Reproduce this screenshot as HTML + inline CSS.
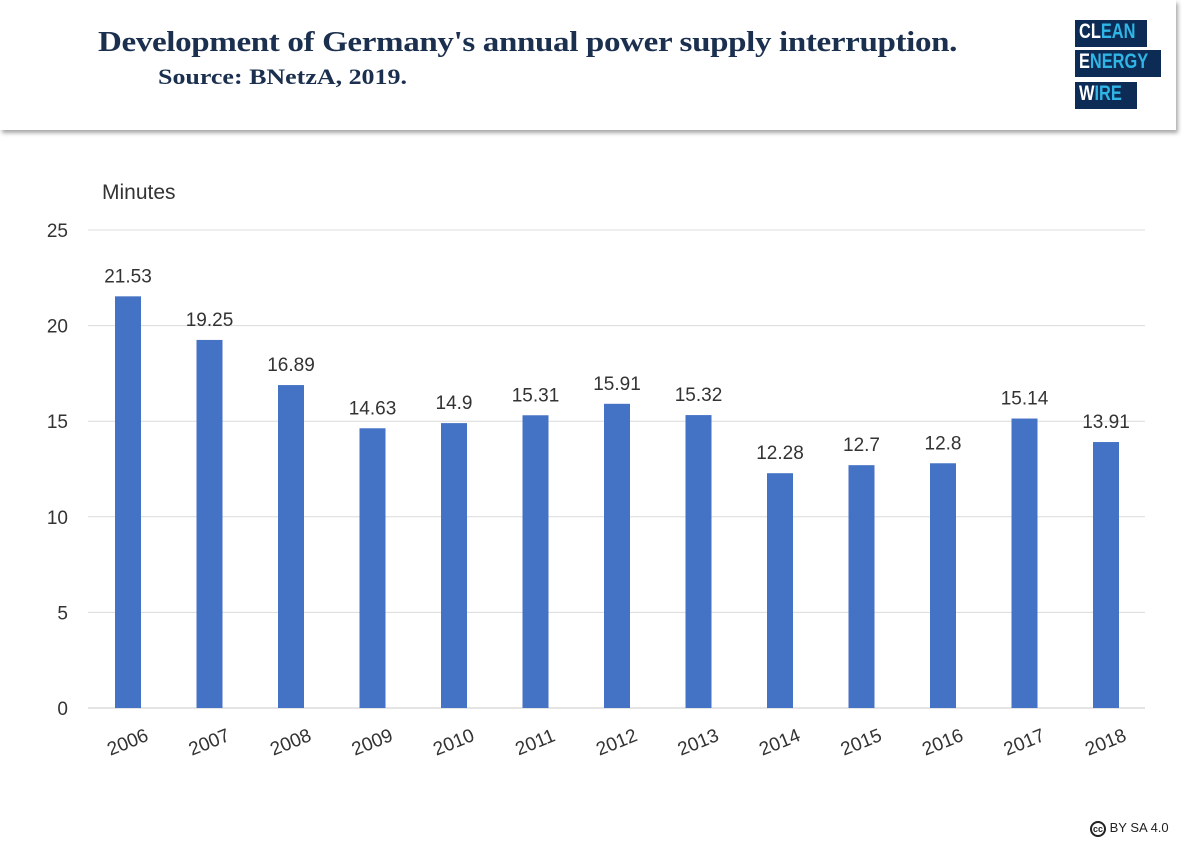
<!DOCTYPE html>
<html><head><meta charset="utf-8"><style>
body{margin:0;width:1200px;height:848px;background:#fff;overflow:hidden;font-family:"Liberation Sans",sans-serif;position:relative}
.hdr{position:absolute;left:0;top:0;width:1176px;height:130px;background:#fff;box-shadow:2px 3px 4px rgba(0,0,0,0.35)}
.t1{position:absolute;left:98px;top:27px;font:bold 28px "Liberation Serif",serif;color:#1b2f4e;transform:scaleX(1.18);transform-origin:left;white-space:nowrap;letter-spacing:-0.3px}
.t2{position:absolute;left:158px;top:64px;font:bold 22px "Liberation Serif",serif;color:#1b2f4e;transform:scaleX(1.18);transform-origin:left;white-space:nowrap}
.lg{position:absolute;background:#0d2c55;height:27px;box-sizing:border-box;overflow:hidden}
.lg span{position:absolute;left:4px;top:0;line-height:27px;color:#2fb5e6;font:bold 21px "Liberation Sans",sans-serif;transform:scaleX(0.78);transform-origin:left;white-space:nowrap}
.lg b{color:#fff}
.cc{position:absolute;left:1090px;top:820px;font-size:13px;color:#222}
</style></head><body>
<div class="hdr">
<div class="t1">Development of Germany's annual power supply interruption.</div>
<div class="t2">Source: BNetzA, 2019.</div>
<div class="lg" style="left:1075px;top:20px;width:72px"><span><b>CL</b>EAN</span></div>
<div class="lg" style="left:1075px;top:50px;width:86px"><span><b>E</b>NERGY</span></div>
<div class="lg" style="left:1075px;top:82px;width:62px"><span><b>W</b>IRE</span></div>
</div>
<svg id="chart" width="1200" height="848" style="position:absolute;left:0;top:0"></svg>
<div class="cc"><span style="display:inline-block;width:16px;height:16px;border:2px solid #222;border-radius:50%;font:bold 9px sans-serif;text-align:center;line-height:13px;box-sizing:border-box;vertical-align:middle">cc</span> BY SA 4.0</div>
<script>
const years=["2006","2007","2008","2009","2010","2011","2012","2013","2014","2015","2016","2017","2018"];
const values=[21.53,19.25,16.89,14.63,14.9,15.31,15.91,15.32,12.28,12.7,12.8,15.14,13.91];
const labels=["21.53","19.25","16.89","14.63","14.9","15.31","15.91","15.32","12.28","12.7","12.8","15.14","13.91"];
const ticks=[0,5,10,15,20,25];
const NS="http://www.w3.org/2000/svg";
const svg=document.getElementById('chart');
const y=v=>708-v*(478/25);
const x=i=>128+i*81.5;
function mk(t,a){const e=document.createElementNS(NS,t);for(const k in a)e.setAttribute(k,a[k]);svg.appendChild(e);return e;}
const yt=mk('text',{x:102,y:199,'font-size':21,fill:'#333','font-family':'Liberation Sans, sans-serif'});yt.textContent='Minutes';


ticks.forEach(t=>{
 const l=mk('line',{x1:88,x2:1145,y1:y(t),y2:y(t),stroke:t===0?'#c8c8c8':'#dcdcdc','stroke-width':1});
 
 
 const tx=mk('text',{x:68,y:y(t)+7,'font-size':19,fill:'#333','text-anchor':'end','font-family':'Liberation Sans, sans-serif'});tx.textContent=t;
 
 
});
values.forEach((v,i)=>{
 const r=mk('rect',{x:x(i)-13,y:y(v),width:26,height:y(0)-y(v),fill:'#4472c4'});
 
 
 const lb=mk('text',{x:x(i),y:y(v)-14,'font-size':19,fill:'#333','text-anchor':'middle','font-family':'Liberation Sans, sans-serif'});lb.textContent=labels[i];
 
 
 const xl=mk('text',{x:x(i)+2,y:748,'font-size':19,fill:'#333','text-anchor':'middle','font-family':'Liberation Sans, sans-serif',transform:`rotate(-22 ${x(i)+2} 748)`});xl.textContent=years[i];
 
 
});
</script>
</body></html>
